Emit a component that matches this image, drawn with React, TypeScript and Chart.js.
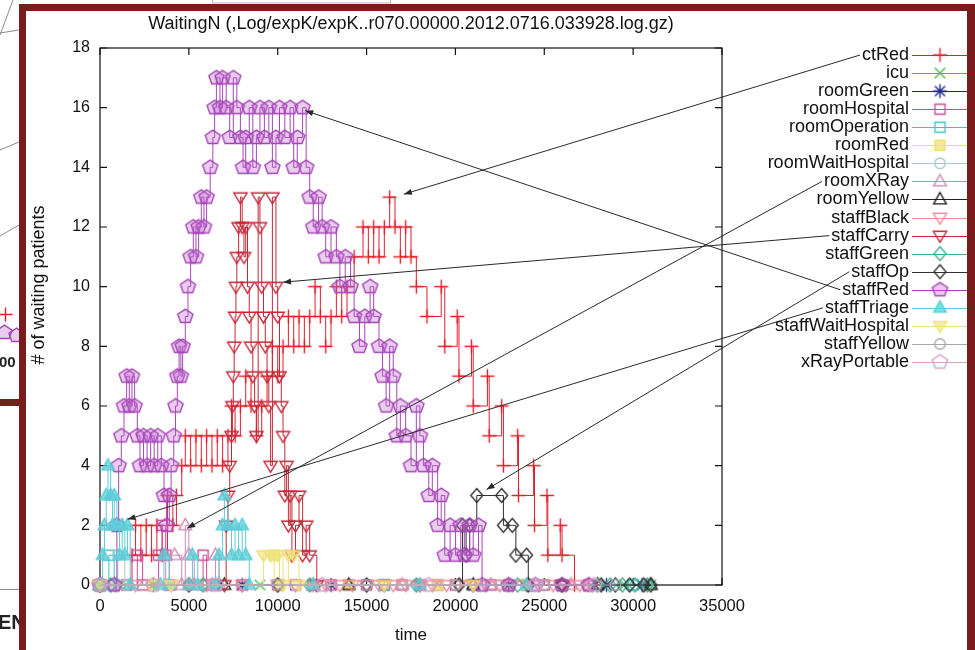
import React, { useEffect, useRef } from 'react';
import { Chart, registerables } from 'chart.js';

Chart.register(...registerables);

const FONT = "'Liberation Sans', Arial, Helvetica, sans-serif";

// ---------- text ----------
const chartTitle = 'WaitingN (,Log/expK/expK..r070.00000.2012.0716.033928.log.gz)';
const xTitle = 'time';
const yTitle = '# of waiting patients';
const xTicks = [0, 5000, 10000, 15000, 20000, 25000, 30000, 35000];
const yTicks = [0, 2, 4, 6, 8, 10, 12, 14, 16, 18];

const seriesNames = [
  'ctRed', 'icu', 'roomGreen', 'roomHospital', 'roomOperation', 'roomRed',
  'roomWaitHospital', 'roomXRay', 'roomYellow', 'staffBlack', 'staffCarry',
  'staffGreen', 'staffOp', 'staffRed', 'staffTriage', 'staffWaitHospital',
  'staffYellow', 'xRayPortable',
];

// ---------- data: [time, waiting] ----------
const ctRed = [
  [0, 0], [900, 0], [1800, 1], [2000, 2], [2300, 1], [2600, 2], [2900, 1], [3200, 2], [3500, 1],
  [3800, 3], [4100, 2], [4300, 3], [4600, 4], [4800, 5], [5100, 4], [5400, 5], [5700, 4], [6000, 5],
  [6300, 4], [6600, 5], [6900, 4], [7200, 5], [7400, 6], [7600, 5], [7900, 6], [8200, 7], [8500, 6],
  [8800, 5], [9100, 6], [9400, 7], [9700, 8], [10000, 7], [10300, 8], [10600, 9], [10900, 8],
  [11200, 9], [11500, 8], [11800, 9], [12100, 10], [12400, 9], [12700, 8], [13000, 9], [13300, 10],
  [13600, 9], [13900, 10], [14300, 11], [14800, 12], [15100, 11], [15400, 12], [15700, 11],
  [16000, 12], [16300, 13], [16600, 12], [16900, 11], [17200, 12], [17500, 11], [17800, 10],
  [18400, 9], [19200, 10], [19400, 8], [20100, 9], [20200, 7], [20900, 8], [21000, 6], [21800, 7],
  [21900, 5], [22600, 6], [22700, 4], [23500, 5], [23550, 3], [24400, 4], [24450, 2], [25150, 3],
  [25200, 1], [25900, 2], [26000, 1], [26700, 0], [27500, 0],
];
const icu = [[0, 0], [1500, 0], [4000, 0], [9000, 0], [14000, 0], [19000, 0], [24000, 0], [29500, 0], [31000, 0]];
const roomGreen = [[0, 0], [3000, 0], [8000, 0], [13000, 0], [18000, 0], [23000, 0], [28500, 0], [30500, 0]];
const roomHospital = [
  [0, 0], [1500, 0], [2100, 1], [2400, 0], [3300, 1], [3500, 2], [3700, 1], [3900, 0], [5800, 1],
  [6000, 0], [8000, 0], [10000, 0], [11000, 0], [12000, 0], [13000, 0], [14000, 0], [15000, 0],
  [16000, 0], [17000, 0], [18000, 0], [19000, 0], [20000, 0], [21000, 0], [22000, 0], [23000, 0],
  [24000, 0], [25000, 0], [26000, 0], [27500, 0],
];
const roomOperation = [[0, 0], [500, 1], [800, 0], [6500, 0], [12000, 0], [16000, 0], [21000, 0], [26000, 0], [30000, 0]];
const roomRed = [[0, 0], [3000, 0], [9800, 1], [10100, 0], [14000, 0], [19000, 0], [24000, 0]];
const roomWaitHospital = [[0, 0], [1000, 1], [1400, 0], [5500, 0], [11000, 0], [17000, 0], [22500, 0], [28000, 0], [30800, 0]];
const roomXRay = [
  [0, 0], [3700, 1], [4200, 1], [4600, 0], [4800, 2], [5000, 1], [5300, 0], [6300, 0], [6500, 1],
  [6700, 0], [12000, 0], [17000, 0], [22000, 0], [26500, 0],
];
const roomYellow = [[0, 0], [7000, 0], [14000, 0], [21000, 0], [28000, 0], [31000, 0]];
const staffBlack = [
  [0, 0], [2000, 0], [4000, 0], [6000, 0], [8000, 0], [10000, 0], [11000, 0], [12000, 0], [12700, 0],
  [13500, 0], [14200, 0], [15000, 0], [15700, 0], [16500, 0], [17200, 0], [18000, 0], [18700, 0],
  [19500, 0], [20200, 0], [21000, 0], [21700, 0], [22500, 0], [23200, 0], [24000, 0], [24700, 0],
  [25500, 0], [26200, 0], [27000, 0], [27700, 0],
];
const staffCarry = [
  [0, 0], [7000, 0], [7100, 2], [7200, 3], [7300, 4], [7400, 5], [7450, 6], [7500, 7], [7550, 8],
  [7600, 9], [7650, 10], [7700, 11], [7800, 12], [7900, 13], [8000, 12], [8100, 11], [8200, 12],
  [8300, 10], [8400, 9], [8500, 8], [8600, 7], [8700, 6], [8800, 5], [8900, 13], [9000, 12],
  [9100, 10], [9200, 9], [9300, 8], [9400, 7], [9500, 6], [9600, 4], [9700, 13], [9900, 10],
  [10000, 9], [10100, 7], [10200, 6], [10300, 5], [10400, 3], [10500, 4], [10600, 2], [10700, 3],
  [10800, 1], [11000, 2], [11200, 3], [11400, 1], [11600, 2], [11800, 1], [12200, 0], [16000, 0],
  [21000, 0], [26000, 0],
];
const staffGreen = [
  [0, 0], [600, 0], [5800, 0], [11800, 0], [17800, 0], [23500, 0], [28000, 0], [28700, 0],
  [29400, 0], [30100, 0], [30800, 0],
];
const staffOp = [
  [0, 0], [5000, 0], [10000, 0], [15000, 0], [20200, 0], [20400, 2], [20600, 1], [20800, 2],
  [21200, 3], [22600, 3], [22700, 2], [23200, 2], [23400, 1], [24000, 1], [24100, 0], [26000, 0],
  [28200, 0], [29000, 0], [29800, 0], [30600, 0], [31000, 0],
];
const staffRed = [
  [0, 0], [800, 0], [950, 2], [1050, 4], [1200, 5], [1350, 6], [1500, 7], [1650, 6], [1800, 7],
  [1950, 6], [2100, 5], [2250, 4], [2450, 5], [2650, 4], [2850, 5], [3050, 4], [3250, 5], [3450, 4],
  [3600, 3], [3750, 2], [3900, 3], [4000, 4], [4150, 5], [4250, 6], [4350, 7], [4450, 8], [4550, 7],
  [4650, 8], [4800, 9], [4950, 10], [5100, 11], [5250, 12], [5400, 11], [5550, 12], [5700, 13],
  [5850, 12], [6000, 13], [6200, 14], [6350, 15], [6450, 16], [6550, 17], [6750, 16], [6900, 17],
  [7100, 16], [7300, 15], [7500, 17], [7700, 16], [7900, 15], [8050, 14], [8200, 15], [8400, 16],
  [8600, 14], [8800, 15], [9000, 16], [9250, 15], [9500, 16], [9700, 14], [9900, 15], [10100, 16],
  [10400, 15], [10700, 16], [10900, 14], [11100, 15], [11400, 16], [11600, 14], [11800, 13],
  [12000, 12], [12300, 13], [12500, 12], [12700, 11], [13000, 12], [13300, 11], [13500, 10],
  [13800, 11], [14100, 10], [14300, 9], [14600, 8], [14900, 9], [15200, 10], [15400, 9], [15700, 8],
  [15900, 7], [16100, 6], [16300, 8], [16500, 7], [16700, 5], [16900, 6], [17200, 5], [17500, 4],
  [17800, 6], [18000, 5], [18200, 4], [18500, 3], [18700, 4], [19000, 2], [19200, 3], [19400, 1],
  [19700, 2], [20000, 1], [20300, 2], [20500, 1], [20800, 2], [21000, 1], [21300, 2], [21500, 0],
  [23000, 0], [24500, 0], [26000, 0], [27500, 0],
];
const staffTriage = [
  [0, 0], [150, 1], [250, 2], [350, 3], [450, 4], [600, 3], [700, 2], [800, 3], [950, 2], [1100, 1],
  [1250, 2], [1400, 1], [1550, 2], [1700, 0], [3400, 0], [3600, 1], [3900, 0], [5000, 0], [5200, 1],
  [5500, 0], [6500, 0], [6700, 1], [6900, 2], [7000, 3], [7200, 2], [7400, 1], [7600, 2], [7800, 1],
  [8000, 2], [8200, 1], [8400, 0], [12000, 0], [18000, 0], [24000, 0],
];
const staffWaitHospital = [[0, 0], [4000, 0], [9200, 1], [9600, 1], [10000, 1], [10300, 0], [10600, 1], [10900, 1], [11200, 0], [16000, 0], [21000, 0]];
const staffYellow = [[0, 0], [5000, 0], [10000, 0], [15000, 0], [20000, 0], [25000, 0], [29000, 0]];
const xRayPortable = [[0, 0], [3000, 0], [6500, 0], [12500, 0], [18500, 0], [24500, 0], [27800, 0]];

const seriesData = [
  ctRed, icu, roomGreen, roomHospital, roomOperation, roomRed, roomWaitHospital, roomXRay,
  roomYellow, staffBlack, staffCarry, staffGreen, staffOp, staffRed, staffTriage,
  staffWaitHospital, staffYellow, xRayPortable,
];

// annotation arrows (legend label -> data point)
const arrowSeries = ['ctRed', 'staffRed', 'staffCarry', 'roomXRay', 'staffOp', 'staffTriage'];
const arrowTargetX = [17100, 11550, 10300, 4900, 21750, 1550];
const arrowTargetY = [13.1, 15.9, 10.15, 1.9, 3.2, 2.2];

// ---------- styles ----------
const seriesColors = [
  '#e0202c', '#36c048', '#1e2a80', '#cc4a98', '#3cc4c8', '#eee070',
  '#a9c8cc', '#d287b4', '#202020', '#f08c9c', '#c42838',
  '#3fae92', '#303030', '#a546b6', '#5ccdd8', '#f0e27a',
  '#a6a6ae', '#d2a2c8',
];
const seriesFills = [
  null, null, null, null, null, 'rgba(240,225,110,0.7)',
  null, null, null, null, null,
  null, null, 'rgba(190,100,205,0.33)', 'rgba(90,205,215,0.75)', 'rgba(240,226,122,0.6)',
  null, null,
];
const seriesMarkers = [
  'plus', 'x', 'star', 'square', 'square', 'fsquare', 'circle', 'tri', 'tri', 'dtri', 'dtri',
  'diamond', 'diamond', 'pent', 'ftri', 'dtri', 'circle', 'pent',
];

function makeMarker(shape: string, color: string, fill: string | null) {
  const r = shape === 'pent' ? 8 : 7;
  const lw = 1.4;
  const size = Math.ceil(2 * r + lw + 3);
  const c = document.createElement('canvas');
  c.width = size;
  c.height = size;
  const g = c.getContext('2d') as CanvasRenderingContext2D;
  const m = size / 2;
  g.strokeStyle = color;
  g.lineWidth = lw;
  g.lineJoin = 'miter';
  g.beginPath();
  let closed = true;
  switch (shape) {
    case 'plus':
      g.moveTo(m - r, m); g.lineTo(m + r, m); g.moveTo(m, m - r); g.lineTo(m, m + r);
      closed = false; break;
    case 'x': {
      const d = r * 0.75;
      g.moveTo(m - d, m - d); g.lineTo(m + d, m + d); g.moveTo(m + d, m - d); g.lineTo(m - d, m + d);
      closed = false; break;
    }
    case 'star': {
      const d = r * 0.72;
      g.moveTo(m - r, m); g.lineTo(m + r, m); g.moveTo(m, m - r); g.lineTo(m, m + r);
      g.moveTo(m - d, m - d); g.lineTo(m + d, m + d); g.moveTo(m + d, m - d); g.lineTo(m - d, m + d);
      closed = false; break;
    }
    case 'square':
    case 'fsquare': {
      const d = r * 0.72;
      g.rect(m - d, m - d, 2 * d, 2 * d); break;
    }
    case 'circle':
      g.arc(m, m, r * 0.75, 0, Math.PI * 2); break;
    case 'tri':
    case 'ftri':
      g.moveTo(m, m - r); g.lineTo(m + r * 0.9, m + r * 0.62); g.lineTo(m - r * 0.9, m + r * 0.62);
      g.closePath(); break;
    case 'dtri':
      g.moveTo(m - r * 0.95, m - r * 0.6); g.lineTo(m + r * 0.95, m - r * 0.6); g.lineTo(m, m + r * 0.95);
      g.closePath(); break;
    case 'diamond':
      g.moveTo(m, m - r); g.lineTo(m + r * 0.85, m); g.lineTo(m, m + r); g.lineTo(m - r * 0.85, m);
      g.closePath(); break;
    case 'pent':
      for (let k = 0; k < 5; k++) {
        const a = -Math.PI / 2 + (k * 2 * Math.PI) / 5;
        const px = m + r * Math.cos(a);
        const py = m + r * Math.sin(a) * 0.92;
        if (k === 0) g.moveTo(px, py); else g.lineTo(px, py);
      }
      g.closePath(); break;
    default:
      break;
  }
  if (fill && closed) {
    g.fillStyle = fill;
    g.fill();
  }
  g.stroke();
  return c;
}

// layout constants
const LEGEND_TEXT_RIGHT = 909;
const LEGEND_TOP = 55;
const LEGEND_STEP = 18.06;
const LEGEND_LINE_X0 = 912;
const LEGEND_LINE_X1 = 968;
const LEGEND_MARK_X = 940;
const FRAME = '#781c1c';

export default function App() {
  const ref = useRef<HTMLCanvasElement | null>(null);

  useEffect(() => {
    const canvas = ref.current;
    if (!canvas) return;
    const markers = seriesNames.map((_, i) => makeMarker(seriesMarkers[i], seriesColors[i], seriesFills[i]));
    const n = seriesNames.length;

    const datasets = seriesNames.map((name, i) => ({
      label: name,
      data: seriesData[i].map(([x, y]) => ({ x, y })),
      borderColor: seriesColors[i],
      backgroundColor: seriesColors[i],
      borderWidth: 1,
      stepped: 'before' as const,
      pointStyle: markers[i],
      pointRadius: 6,
      pointHoverRadius: 6,
      fill: false,
      clip: false as const,
      order: n - 1 - i,
    }));

    const decor = {
      id: 'gnuplotDecor',
      beforeDraw(chart: any) {
        const ctx: CanvasRenderingContext2D = chart.ctx;
        ctx.save();
        ctx.fillStyle = '#ffffff';
        ctx.fillRect(0, 0, chart.width, chart.height);
        // fragments of the surrounding slide
        ctx.strokeStyle = '#8c8c8c';
        ctx.lineWidth = 1;
        const segs = [[0, 35, 13, 0], [0, 33, 19, 30], [0, 150, 19, 142], [0, 236, 19, 225], [0, 589.5, 19, 589.5]];
        segs.forEach(([a, b, c2, d]) => { ctx.beginPath(); ctx.moveTo(a, b); ctx.lineTo(c2, d); ctx.stroke(); });
        ctx.strokeStyle = '#b8b8b8';
        ctx.strokeRect(212.5, -2, 178, 5);
        ctx.drawImage(markers[13], -6, 322);
        ctx.drawImage(markers[13], 6, 325);
        ctx.drawImage(markers[0], -4, 305);
        ctx.fillStyle = '#222';
        ctx.font = `bold 15px ${FONT}`;
        ctx.textBaseline = 'middle';
        ctx.textAlign = 'left';
        ctx.fillText('00', -1, 363);
        ctx.font = `bold 20px ${FONT}`;
        ctx.fillText('EN', -2, 623);
        ctx.fillStyle = FRAME;
        ctx.fillRect(0, 399, 20, 7);
        ctx.restore();
      },
      beforeDatasetsDraw(chart: any) {
        const ctx: CanvasRenderingContext2D = chart.ctx;
        const { left, right, top, bottom } = chart.chartArea;
        const xs = chart.scales.x;
        const ys = chart.scales.y;
        ctx.save();
        ctx.strokeStyle = '#111';
        ctx.lineWidth = 1.2;
        ctx.strokeRect(left, top, right - left, bottom - top);
        ctx.beginPath();
        xTicks.forEach((v) => {
          const p = xs.getPixelForValue(v);
          ctx.moveTo(p, bottom); ctx.lineTo(p, bottom - 7);
          ctx.moveTo(p, top); ctx.lineTo(p, top + 7);
        });
        yTicks.forEach((v) => {
          const p = ys.getPixelForValue(v);
          ctx.moveTo(left, p); ctx.lineTo(left + 7, p);
          ctx.moveTo(right, p); ctx.lineTo(right - 7, p);
        });
        ctx.stroke();
        ctx.restore();
      },
      afterDatasetsDraw(chart: any) {
        const ctx: CanvasRenderingContext2D = chart.ctx;
        const xs = chart.scales.x;
        const ys = chart.scales.y;
        ctx.save();
        ctx.font = `18px ${FONT}`;
        ctx.strokeStyle = '#2a2a2a';
        ctx.fillStyle = '#2a2a2a';
        ctx.lineWidth = 1;
        arrowSeries.forEach((name, k) => {
          const i = seriesNames.indexOf(name);
          const sy = LEGEND_TOP + LEGEND_STEP * i;
          const sx = LEGEND_TEXT_RIGHT - ctx.measureText(name).width - 2;
          const tx = xs.getPixelForValue(arrowTargetX[k]);
          const ty = ys.getPixelForValue(arrowTargetY[k]);
          ctx.beginPath();
          ctx.moveTo(sx, sy);
          ctx.lineTo(tx, ty);
          ctx.stroke();
          const ang = Math.atan2(ty - sy, tx - sx);
          const L = 8;
          const W = 3;
          ctx.beginPath();
          ctx.moveTo(tx, ty);
          ctx.lineTo(tx - L * Math.cos(ang) + W * Math.sin(ang), ty - L * Math.sin(ang) - W * Math.cos(ang));
          ctx.lineTo(tx - L * Math.cos(ang) - W * Math.sin(ang), ty - L * Math.sin(ang) + W * Math.cos(ang));
          ctx.closePath();
          ctx.fill();
        });
        ctx.restore();
      },
      afterDraw(chart: any) {
        const ctx: CanvasRenderingContext2D = chart.ctx;
        ctx.save();
        // legend (gnuplot key: text right-aligned, sample to the right)
        ctx.font = `18px ${FONT}`;
        ctx.textAlign = 'right';
        ctx.textBaseline = 'middle';
        seriesNames.forEach((name, i) => {
          const y = LEGEND_TOP + LEGEND_STEP * i;
          ctx.fillStyle = '#111';
          ctx.fillText(name, LEGEND_TEXT_RIGHT, y);
          ctx.strokeStyle = seriesColors[i];
          ctx.lineWidth = 1;
          ctx.beginPath();
          ctx.moveTo(LEGEND_LINE_X0, Math.round(y) + 0.5);
          ctx.lineTo(LEGEND_LINE_X1, Math.round(y) + 0.5);
          ctx.stroke();
          const mk = markers[i];
          ctx.drawImage(mk, LEGEND_MARK_X - mk.width / 2, y - mk.height / 2);
        });
        // y axis title
        ctx.fillStyle = '#111';
        ctx.font = `18px ${FONT}`;
        ctx.textAlign = 'center';
        ctx.translate(39, 285);
        ctx.rotate(-Math.PI / 2);
        ctx.fillText(yTitle, 0, 0);
        ctx.setTransform(1, 0, 0, 1, 0, 0);
        // slide frame
        ctx.fillStyle = FRAME;
        ctx.fillRect(19, 4, 956, 7);
        ctx.fillRect(19, 4, 7, 646);
        ctx.fillRect(967, 4, 8, 646);
        ctx.restore();
      },
    };

    const chart = new Chart(canvas, {
      type: 'line',
      data: { datasets: datasets as any },
      options: {
        responsive: false,
        animation: false,
        events: [],
        layout: { padding: { left: 25, right: 253, top: 0, bottom: 0 } },
        plugins: {
          legend: { display: false },
          tooltip: { enabled: false },
          title: {
            display: true,
            text: chartTitle,
            fullSize: false,
            color: '#111',
            font: { family: FONT, size: 18, weight: 'normal' },
            padding: { top: 13, bottom: 13.4 },
          },
        },
        scales: {
          x: {
            type: 'linear',
            min: xTicks[0],
            max: xTicks[xTicks.length - 1],
            afterBuildTicks: (s: any) => { s.ticks = xTicks.map((v) => ({ value: v })); },
            ticks: {
              color: '#111', font: { family: FONT, size: 16.5 }, padding: 12, maxRotation: 0, autoSkip: false,
              callback: (v: any) => String(v),
            },
            grid: { display: false, drawTicks: false },
            border: { display: false },
            title: { display: true, text: xTitle, color: '#111', font: { family: FONT, size: 17 }, padding: { top: 0, bottom: 4 } },
            afterFit: (s: any) => { s.height = 65; },
          },
          y: {
            type: 'linear',
            min: yTicks[0],
            max: yTicks[yTicks.length - 1],
            afterBuildTicks: (s: any) => { s.ticks = yTicks.map((v) => ({ value: v })); },
            ticks: {
              color: '#111', font: { family: FONT, size: 16 }, padding: 10, autoSkip: false,
              callback: (v: any) => String(v),
            },
            grid: { display: false, drawTicks: false },
            border: { display: false },
            afterFit: (s: any) => { s.width = 75; },
          },
        },
      },
      plugins: [decor],
    });
    return () => chart.destroy();
  }, []);

  return (
    <div style={{ position: 'absolute', left: 0, top: 0, width: 975, height: 650, overflow: 'hidden', background: '#fff' }}>
      <canvas ref={ref} width={975} height={650} style={{ display: 'block', width: 975, height: 650 }} />
    </div>
  );
}
